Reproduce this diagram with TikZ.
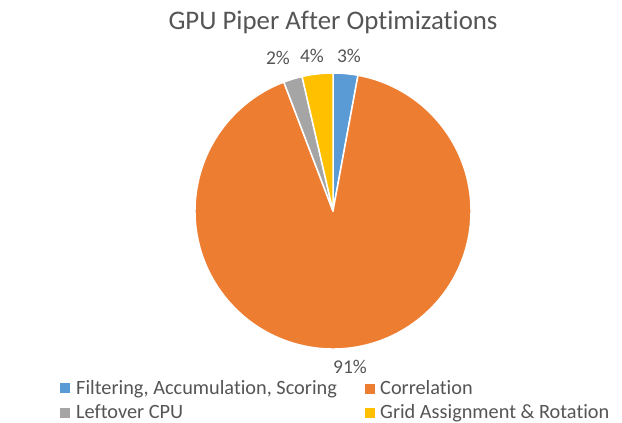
\documentclass[tikz,border=0pt]{standalone}
\usepackage{fontspec}
\setmainfont{Carlito}[Ligatures=CommonOff]
\definecolor{sliceblue}{HTML}{5B9BD5}
\definecolor{sliceorange}{HTML}{ED7D31}
\definecolor{slicegray}{HTML}{A5A5A5}
\definecolor{sliceyellow}{HTML}{FFC000}
\definecolor{labeltext}{HTML}{555555}
\begin{document}
\begin{tikzpicture}[x=1pt,y=-1pt,
  slice/.style={draw=white, line width=1.5pt, line join=round},
  titletext/.style={anchor=base, inner sep=0pt, text=labeltext, font=\fontsize{26.8}{32}\selectfont},
  pcttext/.style={anchor=base, inner sep=0pt, text=labeltext, font=\fontsize{19.5}{24}\selectfont},
  legtext/.style={anchor=base west, inner sep=0pt, text=labeltext, font=\fontsize{20.3}{24}\selectfont},
  legbox/.style={draw=none, minimum size=10pt, inner sep=0pt}]
\useasboundingbox (0,0) rectangle (622,423);
\fill[white] (0,0) rectangle (622,423);

% title
\node[titletext] (title) at (333,29) {GPU Piper After Optimizations};

% pie slices, clockwise from 12 o'clock
\coordinate (c) at (333,211);
\filldraw[slice, fill=sliceblue]   (c) -- ++(-90:138) arc[start angle=-90, end angle=-79.56, radius=138] -- cycle;
\filldraw[slice, fill=sliceorange] (c) -- ++(-79.56:138) arc[start angle=-79.56, end angle=249.12, radius=138] -- cycle;
\filldraw[slice, fill=slicegray]   (c) -- ++(249.12:138) arc[start angle=249.12, end angle=257.04, radius=138] -- cycle;
\filldraw[slice, fill=sliceyellow] (c) -- ++(257.04:138) arc[start angle=257.04, end angle=270, radius=138] -- cycle;

% data labels
\node[pcttext] (p3) at (349,62) {3\%};
\node[pcttext] (p4) at (312,62) {4\%};
\node[pcttext] (p2) at (278,64) {2\%};
\node[pcttext] (p91) at (350,373) {91\%};

% legend
\node[legbox, fill=sliceblue]   (lb1) at (65,388) {};
\node[legtext] (lt1) at (76,394) {Filtering, Accumulation, Scoring};
\node[legbox, fill=sliceorange] (lb2) at (369.5,388.5) {};
\node[legtext] (lt2) at (380,394) {Correlation};
\node[legbox, fill=slicegray]   (lb3) at (65,413) {};
\node[legtext] (lt3) at (76,418) {Leftover CPU};
\node[legbox, fill=sliceyellow] (lb4) at (369.5,413) {};
\node[legtext] (lt4) at (380,418) {Grid Assignment \& Rotation};
\end{tikzpicture}
\end{document}
